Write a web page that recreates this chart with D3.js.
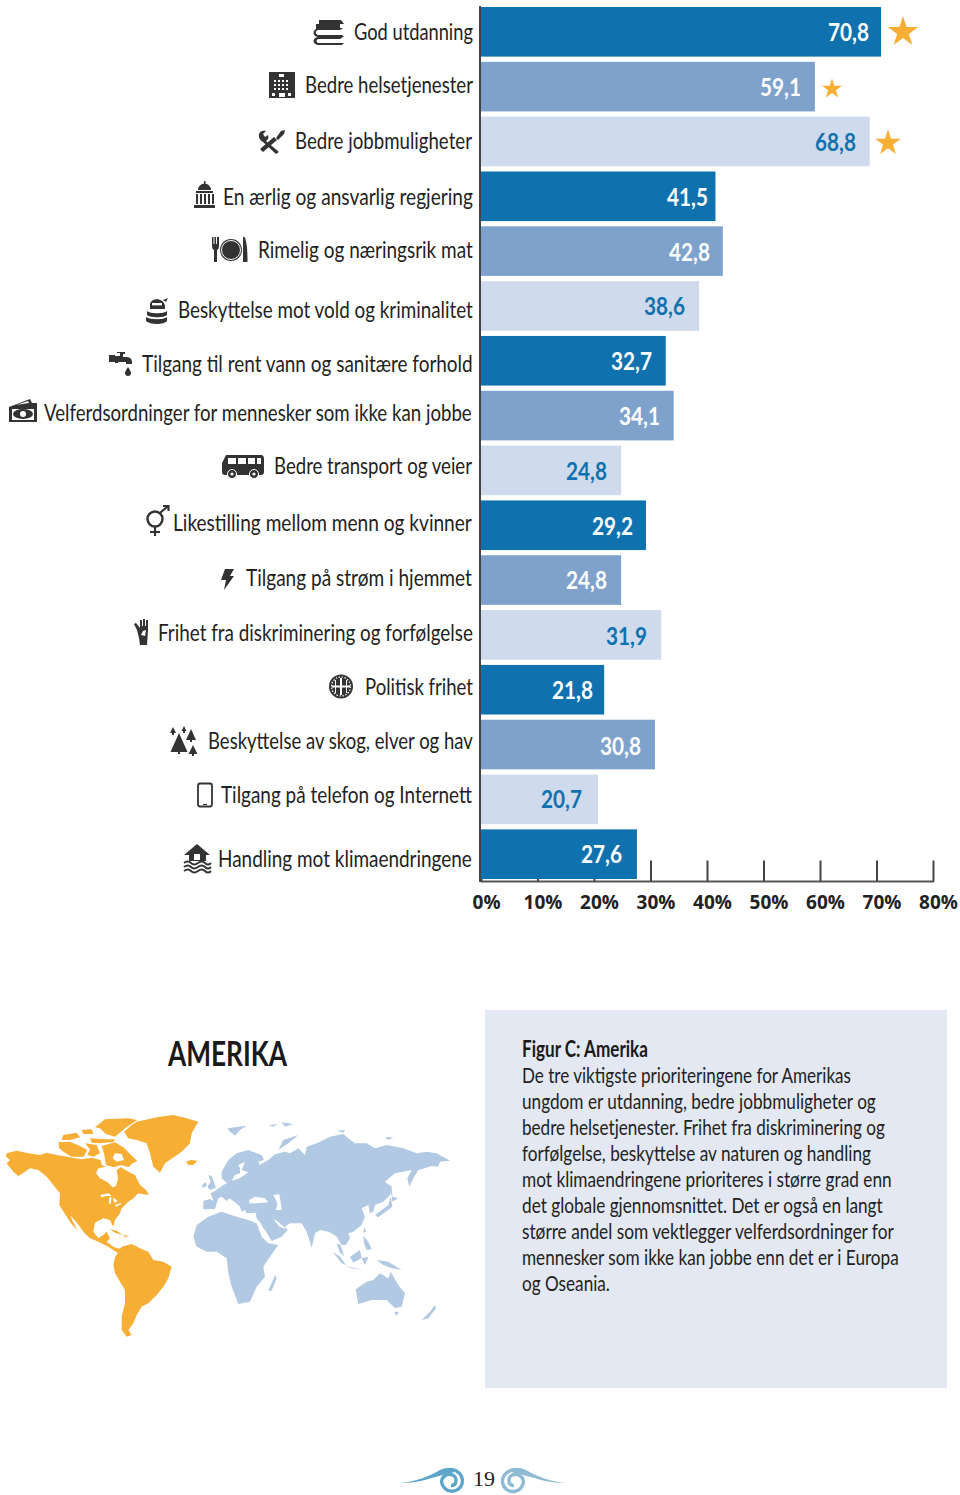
<!DOCTYPE html>
<html><head><meta charset="utf-8">
<style>
html,body{margin:0;padding:0;background:#fff}
svg{display:block}
text{font-family:"Lato","Roboto",sans-serif;fill:#222}
</style>
<script src="https://cdn.jsdelivr.net/npm/d3@7"></script>
</head><body>
<svg id="c" width="960" height="1495"></svg>
<script>
// ---------- data ----------
const categories = ["God utdanning","Bedre helsetjenester","Bedre jobbmuligheter","En ærlig og ansvarlig regjering","Rimelig og næringsrik mat","Beskyttelse mot vold og kriminalitet","Tilgang til rent vann og sanitære forhold","Velferdsordninger for mennesker som ikke kan jobbe","Bedre transport og veier","Likestilling mellom menn og kvinner","Tilgang på strøm i hjemmet","Frihet fra diskriminering og forfølgelse","Politisk frihet","Beskyttelse av skog, elver og hav","Tilgang på telefon og Internett","Handling mot klimaendringene"];
const values = [70.8,59.1,68.8,41.5,42.8,38.6,32.7,34.1,24.8,29.2,24.8,31.9,21.8,30.8,20.7,27.6];
const valueLabels = ["70,8","59,1","68,8","41,5","42,8","38,6","32,7","34,1","24,8","29,2","24,8","31,9","21,8","30,8","20,7","27,6"];
const axisTicks = [0,10,20,30,40,50,60,70,80];
const topThree = [0,1,2];
const panelHead = "Figur C: Amerika";
const panelLines = ["De tre viktigste prioriteringene for Amerikas","ungdom er utdanning, bedre jobbmuligheter og","bedre helsetjenester. Frihet fra diskriminering og","forfølgelse, beskyttelse av naturen og handling","mot klimaendringene prioriteres i større grad enn","det globale gjennomsnittet. Det er også en langt","større andel som vektlegger velferdsordninger for","mennesker som ikke kan jobbe enn det er i Europa","og Oseania."];

// ---------- layout read from the page ----------
const labelLeft = [354,305,295,223,258,178,142,44,274,173,246,158,365,208,221,218];
const labelRight = [473,473,472,473,473,473,473,472,472,472,472,473,473,473,472,472];
const labelBase = [40,93,149,205,258,318,372,421,474,531,586,641,695,749,803,867];
const valueRight = [869,801,856,708,710,685,652,660,607,633,607,647,593,641,582,622];
const valueBase = [41,96,151,206,261,315,370,425,480,535,589,645,699,755,808,863];
const starRadius = [16,10.5,13.5];
const starCentre = [[903,32],[832,89],[888,143]];
const panelRight = [851,876,885,871,892,883,894,899,610];
const barFill = ["#0f72ae","#7ea2cc","#cfdaec"];
const INK = "#333";

const svg = d3.select("#c");
const x = d3.scaleLinear().domain([0,80]).range([481,933]);
const y = d3.scaleBand().domain(d3.range(categories.length)).range([7,879]).paddingInner(0.095).paddingOuter(0);

// squeeze a text horizontally so it spans left..right
function fit(sel,left,right,base){
  sel.attr("x",0).attr("y",0).attr("transform",function(d,i){
    const n=this.getComputedTextLength(), l=left(d,i), r=right(d,i);
    return `translate(${l},${base(d,i)}) scale(${(r-l)/n},1)`;
  });
}

// axis beneath the bars
const ax = svg.append("g").attr("transform","translate(0,881.5)")
  .call(d3.axisBottom(x).tickValues(axisTicks).tickSize(-21).tickFormat(d=>d+"%").tickPadding(0));
ax.select(".domain").attr("stroke","#555").attr("stroke-width",2).attr("d","M481,0H934");
ax.selectAll(".tick line").attr("stroke","#444").attr("stroke-width",2);
ax.selectAll(".tick text").attr("y",27).attr("dy",0).attr("dx",5)
  .style("font-family","'Open Sans'").style("font-weight",700).style("font-size","19px").style("fill","#222");

// vertical axis line
svg.append("line").attr("x1",480).attr("x2",480).attr("y1",6).attr("y2",882).attr("stroke","#444").attr("stroke-width",2);

// bars
svg.append("g").selectAll("rect").data(values).join("rect")
  .attr("x",x(0)).attr("y",(d,i)=>y(i)).attr("height",y.bandwidth())
  .attr("width",d=>x(d)-x(0)).attr("fill",(d,i)=>barFill[i%3]);

// value labels
svg.append("g").selectAll("text").data(values).join("text")
  .attr("font-size",25).attr("font-weight",700)
  .style("fill",(d,i)=>i%3===2?"#0f72ae":"#fff")
  .text((d,i)=>valueLabels[i])
  .call(fit,(d,i)=>valueRight[i]-41,(d,i)=>valueRight[i],(d,i)=>valueBase[i]);

// category labels
svg.append("g").selectAll("text").data(categories).join("text")
  .attr("font-size",24).style("fill","#222").text(d=>d)
  .call(fit,(d,i)=>labelLeft[i],(d,i)=>labelRight[i],(d,i)=>labelBase[i]);

// stars
svg.append("g").selectAll("path").data(topThree).join("path")
  .attr("d",i=>d3.symbol(d3.symbolStar,starRadius[i]*starRadius[i]/0.8908)())
  .attr("transform",i=>`translate(${starCentre[i]})`).attr("fill","#f6ae35");

// ---------- icons ----------
const ic = svg.append("g").attr("fill",INK).attr("stroke","none");
function P(d,o={}){const p=ic.append("path").attr("d",d);for(const k in o)p.attr(k,o[k]);return p;}
function W(d){return P(d,{fill:"#fff"});}
// books
P("M319,20H341L344,24H322L319,27Z M316,24H340V29H316Z");
P("M318,28H343L340,30H318C315,31 315,34 318,35H342L344,37H318C312,36 312,30 318,28Z");
P("M318,37H343L340,39H318C316,40 316,42 318,43H344L342,45H318C312,44 312,38 318,37Z");
// hospital
P("M269,72H295V98H269Z");
W("M279,77h5v-3h-5z M274,80h2v2h-2z M278,80h2v2h-2z M282,80h2v2h-2z M286,80h2v2h-2z M274,84h2v2h-2z M278,84h2v2h-2z M282,84h2v2h-2z M286,84h2v2h-2z M274,88h2v2h-2z M278,88h2v2h-2z M282,88h2v2h-2z M286,88h2v2h-2z M279,93h6v4h-6z M272,93h3v3h-3z M288,93h3v3h-3z");
// tools: wrench and screwdriver
P("M259,134C260,131 263,130 266,131L263,134L265,137L268,135C269,138 268,140 266,141L279,152L276,154L263,142C261,141 258,138 259,134Z");
P("M263,152L260,149L274,137L277,140Z M276,138L281,131L285,130L284,134L278,140Z");
// capitol
P("M198,190A6.5,6.5 0 0 1 211,190Z M204,181h1.5v4h-1.5z M196,191H213V193H196Z M194,205H215V208H194Z");
P("M196,194h2v10h-2z M200,194h2v10h-2z M204,194h2v10h-2z M208,194h2v10h-2z M212,194h2v10h-2z");
// fork / plate / knife
P("M212,237h1.5v7h1v-7h1.5v7h1v-7H219v9q0,3 -2,4V262h-3V250q-2,-1 -2,-4Z");
P("M243,262V237h1.5q3,4 3,25Z");
ic.append("circle").attr("cx",231).attr("cy",250).attr("r",11);
ic.append("circle").attr("cx",231).attr("cy",250).attr("r",9.5).attr("fill","none").attr("stroke","#fff").attr("stroke-width",1);
// ninja stack
P("M150,306C149,297 164,297 165,306L165,309H150Z M147,311C150,314 164,314 167,311V315C164,318 150,318 147,315Z M146,317C150,320 164,320 167,317V321C164,325 150,325 146,321Z M163,300L168,298L166,302Z");
W("M152,303h10v2.4h-10z");
// tap
P("M117,352h8v2h-2v3h3c5,0 6,3 6,5v2h-6v-2h-8v1h-3v-1h-6v-7h6v1h5v-3h-3Z");
P("M128,367c2,3 3,5 3,6a3,3 0 0 1 -6,0c0,-1 1,-3 3,-6Z");
// money
P("M9,407L30,399L32,403H37V422H9Z");
W("M12,409H34V420H12Z M16,405L28,401L29,403Z");
ic.append("ellipse").attr("cx",23).attr("cy",414).attr("rx",10).attr("ry",5);
ic.append("circle").attr("cx",23).attr("cy",414).attr("r",3).attr("fill","#fff");
// bus
P("M226,455H261Q264,455 264,459V472Q264,475 261,475H225Q222,475 222,472V463Z");
W("M228,458H236V464H228Z M238,458H246V464H238Z M248,458H255V464H248Z M257,458H261V464H257Z");
[232,254].forEach(c=>{ic.append("circle").attr("cx",c).attr("cy",474).attr("r",4.5).attr("stroke","#fff");ic.append("circle").attr("cx",c).attr("cy",474).attr("r",1.6).attr("fill","#fff");});
// gender
ic.append("circle").attr("cx",155).attr("cy",519).attr("r",7.5).attr("fill","none").attr("stroke",INK).attr("stroke-width",2.4);
P("M155,527V536 M150,532H160 M160,513L168,506 M163,506H168.5V511",{fill:"none",stroke:INK,"stroke-width":2.2});
// bolt
P("M225,569H234L230,576H234L224,590L226,580H221Z");
// hand
P("M137,630L134,624L136,623L140,628V620h2v6h1v-7h2v7h1v-6h2v10L147,645H140L139,638Z");
W("M143,631L146,630L145,636L141,635Z");
// gear globe
ic.append("circle").attr("cx",341).attr("cy",686.5).attr("r",12);
ic.append("circle").attr("cx",341).attr("cy",686.5).attr("r",9.5).attr("fill","none").attr("stroke","#fff").attr("stroke-width",1.2).attr("stroke-dasharray","1.5 1.5");
W("M332,685.5H350V687.5H332Z M340,678H342V695H340Z M335,680H336V693H335Z M346,680H347V693H346Z");
// trees
function tree(cx,top,h,w){P(`M${cx},${top}L${cx+w},${top+h}H${cx+1}V${top+h+2}H${cx-1}V${top+h}H${cx-w}Z`);}
tree(179,733,19,8.5); tree(191,729,11,5); tree(193,745,9,4.5); tree(173,727,6,3); tree(184,726,5,2.5);
// phone
P("M200,783.5H210Q212,783.5 212,786V804Q212,806.5 210,806.5H200Q198,806.5 198,804V786Q198,783.5 200,783.5Z",{fill:"none",stroke:INK,"stroke-width":1.8});
P("M203,804h4v1h-4z");
// flood house
P("M197,844L210,855H206V861H189V855H184Z");
W("M194,854h6v6h-6z");
P("M184,863q4,-3 7,0t7,0t7,0t6,0 M184,867q4,-3 7,0t7,0t7,0t6,0 M184,871q4,-3 7,0t7,0t7,0t6,0",{fill:"none",stroke:INK,"stroke-width":2});

// ---------- title ----------
svg.append("text").attr("font-size",34).attr("font-weight",700).style("fill","#1a1a1a").text("AMERIKA")
  .call(fit,()=>168,()=>287,()=>1066);

const viewA=[0,1110], viewB=[190,1115], viewC=[320,1130], viewZ=[0,1020];
const on=(v,pts)=>pts.map(p=>[v[0]+p[0]/3,v[1]+p[1]/3]);
const mapOrange = [
 on(viewA,[[20,130],[50,122],[85,130],[120,135],[140,128],[170,135],[210,142],[245,148],[275,143],[302,150],[305,165],[318,170],[295,175],[288,190],[300,205],[325,218],[338,232],[348,228],[354,205],[350,180],[362,172],[385,185],[405,195],[420,225],[438,240],[447,255],[425,252],[415,250],[400,265],[385,275],[365,295],[360,310],[345,330],[340,350],[330,330],[310,325],[285,338],[280,365],[295,385],[310,375],[320,365],[330,385],[320,395],[340,410],[352,415],[368,416],[352,428],[325,410],[295,395],[270,385],[250,365],[232,340],[210,316],[232,362],[212,338],[195,312],[178,285],[180,250],[160,225],[140,200],[115,180],[90,175],[60,195],[28,218],[55,198],[40,185],[20,160],[30,150],[18,140]]),
 on(viewA,[[175,97],[210,95],[240,108],[262,120],[250,140],[215,140],[190,125],[178,115]]),
 on(viewA,[[190,75],[230,68],[240,82],[210,90],[185,90]]),
 on(viewA,[[255,100],[290,105],[300,130],[280,140],[262,135],[270,118]]),
 on(viewA,[[245,60],[275,58],[280,72],[250,72]]),
 on(viewA,[[285,52],[315,28],[385,25],[412,30],[375,55],[345,80],[318,72],[300,55]]),
 on(viewA,[[270,85],[320,88],[345,88],[340,96],[300,100],[275,98]]),
 on(viewA,[[305,108],[345,97],[372,113],[395,137],[412,153],[398,160],[385,172],[365,165],[340,172],[318,165],[312,130]]),
 on(viewA,[[372,65],[395,45],[410,35],[470,22],[520,15],[560,25],[595,35],[575,70],[570,100],[545,125],[495,160],[480,188],[460,170],[450,130],[440,100],[410,90],[385,85]]),
 on(viewA,[[558,155],[572,150],[592,152],[580,165],[565,165]]),
 on(viewA,[[330,358],[350,362],[368,375],[345,368]]),
 on(viewA,[[370,375],[388,378],[375,382]]),
 on(viewZ,[[345,712],[365,680],[395,672],[420,685],[445,695],[460,720],[490,725],[515,740],[505,775],[490,800],[470,825],[445,850],[425,860],[410,885],[400,910],[385,930],[395,945],[380,950],[365,930],[365,890],[375,850],[375,810],[345,760],[340,735]])
];
const lakes = [
 on(viewA,[[300,255],[325,250],[335,258],[320,258],[305,262]]),
 on(viewA,[[328,262],[335,262],[332,282],[326,280]]),
 on(viewA,[[340,262],[352,272],[345,280],[340,270]]),
 on(viewA,[[345,285],[365,278],[362,283],[348,290]]),
 on(viewA,[[345,130],[365,132],[372,150],[350,155],[338,145]])
];
const eurasiaWest = on(viewB,[[40,258],[60,252],[70,258],[62,235],[75,228],[100,210],[112,205],[95,190],[95,170],[115,135],[140,115],[175,105],[215,120],[222,135],[205,140],[208,150],[235,135],[255,118],[285,110],[300,115],[325,100],[345,120],[350,95],[380,85],[390,80]]);
const eurasiaEast = on(viewC,[[0,35],[30,20],[70,12],[85,25],[105,40],[140,40],[165,55],[200,45],[250,55],[290,70],[320,65],[350,70],[390,92],[360,95],[355,110],[335,108],[305,118],[295,120],[280,145],[268,170],[262,145],[275,120],[250,125],[225,130],[195,155],[215,170],[210,195],[190,215],[165,225],[160,245],[150,250],[145,225],[125,235],[135,260],[125,285],[100,305],[85,310],[90,325],[78,345],[65,345],[50,320],[35,310],[25,305],[0,300]]);
const eurasiaSouth = on(viewB,[[375,355],[365,398],[350,350],[335,325],[300,325],[285,335],[293,345],[275,365],[245,378],[225,345],[205,325],[197,300],[200,293],[170,295],[165,285],[155,290],[150,275],[135,262],[118,250],[110,258],[95,245],[85,250],[75,282],[40,283]]);
const mapBlue = [
 [...eurasiaWest,...eurasiaEast,...eurasiaSouth],
 on(viewZ,[[580,650],[590,615],[625,590],[665,575],[710,590],[745,600],[770,610],[785,650],[805,670],[835,675],[810,710],[790,740],[795,770],[770,800],[750,845],[715,852],[695,800],[685,760],[680,715],[650,695],[620,695],[590,680]]),
 on(viewZ,[[805,812],[825,765],[830,775],[815,812]]),
 on(viewB,[[52,215],[62,200],[55,180],[65,183],[78,218],[60,225]]),
 on(viewB,[[36,210],[48,200],[50,214],[38,218]]),
 on(viewB,[[112,40],[170,32],[150,45],[135,62],[120,50]]),
 on(viewB,[[265,105],[280,75],[325,60],[295,85]]),
 on(viewB,[[235,30],[262,28],[250,35]]),
 on(viewB,[[275,22],[310,27],[285,35]]),
 on(viewC,[[50,2],[75,0],[70,8]]),
 on(viewC,[[195,22],[220,22],[205,30]]),
 on(viewC,[[165,255],[205,225],[212,200],[217,230],[175,262]]),
 on(viewC,[[215,200],[235,205],[215,215]]),
 on(viewC,[[213,160],[218,205],[210,185]]),
 on(viewC,[[133,290],[138,305],[130,308]]),
 on(viewC,[[130,318],[145,335],[155,358],[140,360],[132,340]]),
 on(viewC,[[50,340],[62,345],[72,378],[60,368]]),
 on(viewC,[[38,365],[60,380],[78,405],[65,400]]),
 on(viewC,[[90,380],[120,360],[125,385],[100,398]]),
 on(viewC,[[78,408],[130,420],[95,415]]),
 on(viewC,[[125,385],[145,380],[135,405]]),
 on(viewC,[[170,390],[205,395],[245,420],[215,415],[190,405]]),
 on(viewC,[[107,478],[140,455],[160,450],[180,430],[205,445],[212,425],[235,465],[255,490],[245,530],[225,535],[200,510],[155,510],[115,522]]),
 on(viewC,[[222,545],[237,545],[230,558]]),
 on(viewC,[[305,570],[330,545],[345,525],[348,535],[325,565]])
];
const seas = [
 on(viewB,[[178,255],[195,245],[225,250],[235,262],[200,265],[178,265]]),
 on(viewB,[[250,240],[268,238],[272,262],[275,285],[258,285],[262,265]]),
 on(viewB,[[145,150],[165,140],[155,165],[175,172],[150,190],[125,197],[135,180],[150,175],[150,160]]),
 on(viewB,[[195,305],[210,322],[240,378],[228,368]]),
 on(viewB,[[250,312],[262,318],[290,343],[268,335]])
];
const mapLine = d3.line().curve(d3.curveLinearClosed);
const mp = svg.append("g");
mp.selectAll(".o").data(mapOrange).join("path").attr("class","o").attr("d",mapLine).attr("fill","#f6ae35");
mp.selectAll(".b").data(mapBlue).join("path").attr("class","b").attr("d",mapLine).attr("fill","#b2c9e4");
mp.selectAll(".h").data(lakes.concat(seas)).join("path").attr("class","h").attr("d",mapLine).attr("fill","#fff");

// ---------- panel ----------
svg.append("rect").attr("x",485).attr("y",1010).attr("width",462).attr("height",378).attr("fill","#e3e8f3");
svg.append("text").attr("font-size",22).attr("font-weight",700).style("fill","#1a1a1a").text(panelHead)
  .call(fit,()=>522,()=>648,()=>1057);
svg.append("g").selectAll("text").data(panelLines).join("text")
  .attr("font-size",22).style("fill","#222").text(d=>d)
  .call(fit,()=>522,(d,i)=>panelRight[i],(d,i)=>1083+i*26.05);

// ---------- footer ----------
svg.append("text").attr("x",473).attr("y",1486).attr("font-size",22).style("font-family","'Liberation Serif'").style("fill","#222").text("19");
const sw = svg.append("g").attr("fill","none");
sw.append("path").attr("fill","#5ea6c9").attr("d","M399,1483C415,1482 430,1476 440,1470C447,1467 455,1467 459,1471L451,1473C432,1477 418,1484 399,1483Z");
sw.append("path").attr("stroke","#5ea6c9").attr("stroke-width",3.4).attr("d","M456,1471A10.5,10.5 0 1 1 441.5,1481A8,8 0 0 1 451,1474.5A6,6 0 0 1 456,1481A4.5,4.5 0 0 1 451,1485.5");
sw.append("path").attr("fill","#8ebbd3").attr("d","M567,1483C551,1482 536,1476 526,1470C519,1467 511,1467 507,1471L515,1473C534,1477 548,1484 567,1483Z");
sw.append("path").attr("stroke","#8ebbd3").attr("stroke-width",3.4).attr("d","M510,1471A10.5,10.5 0 1 0 523.5,1481A8,8 0 0 0 514,1474.5A6,6 0 0 0 509,1481A4.5,4.5 0 0 0 514,1485.5");
</script>
</body></html>
